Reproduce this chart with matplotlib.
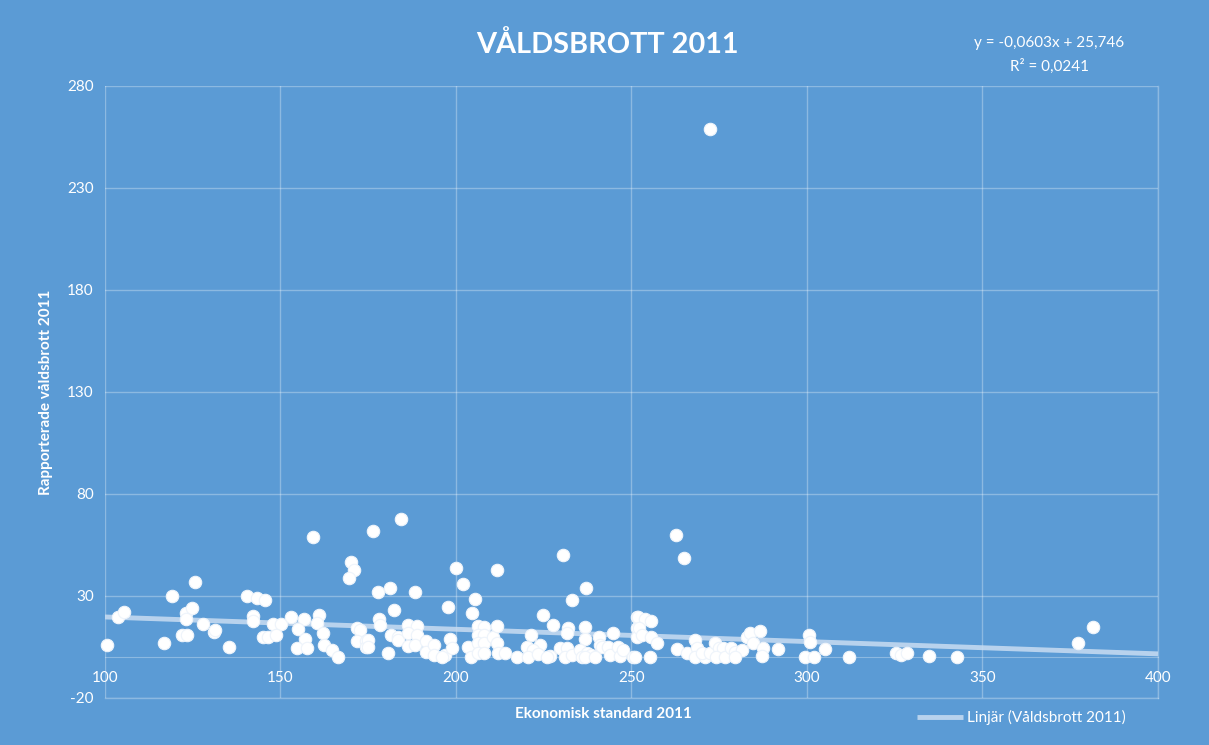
import numpy as np
import matplotlib
matplotlib.use("Agg")
import matplotlib.pyplot as plt

# Ekonomisk standard 2011 (x) vs rapporterade våldsbrott 2011 (y)
ekonomisk_standard = [
    100.7, 103.8, 105.4, 119.0, 125.6, 116.9, 123.0, 124.7, 123.0, 122.0,
    123.5, 127.8, 131.1, 131.3, 135.4, 140.4, 143.4, 145.5, 142.3, 142.3,
    148.0, 150.1, 153.1, 156.7, 155.1, 161.1, 160.5, 162.0, 145.1, 146.5,
    148.7, 156.9, 154.6, 157.7, 162.4, 164.6, 166.5, 170.0, 171.0, 169.5,
    171.7, 172.6, 171.9, 174.5, 174.5, 159.2, 176.4, 184.3, 200.0, 211.6,
    201.9, 205.4, 177.9, 181.3, 188.3, 182.3, 197.6, 204.5, 178.1, 178.5,
    175.0, 175.0, 181.4, 183.6, 183.6, 186.2, 188.8, 186.2, 188.8, 186.2,
    188.3, 180.7, 191.6, 191.6, 193.8, 193.8, 196.9, 198.3, 198.9, 195.9,
    203.5, 204.2, 206.4, 208.1, 206.4, 208.1, 206.4, 208.1, 206.4, 208.1,
    210.6, 211.6, 211.6, 212.1, 230.6, 237.0, 233.2, 224.9, 227.7, 231.8,
    231.5, 236.9, 221.3, 240.8, 244.8, 236.8, 241.0, 241.5, 220.1, 223.9,
    222.0, 214.0, 217.3, 220.6, 223.4, 226.8, 225.8, 229.6, 231.5, 231.1,
    233.0, 235.3, 237.2, 235.8, 238.6, 236.8, 239.6, 243.4, 243.9, 246.2,
    246.7, 247.7, 250.5, 251.5, 251.5, 251.5, 262.6, 264.9, 251.9, 253.8,
    255.5, 252.1, 252.9, 255.6, 257.2, 251.0, 255.3, 262.9, 265.7, 268.1,
    268.6, 268.1, 271.0, 270.0, 272.4, 273.8, 274.8, 276.1, 274.2, 276.6,
    278.5, 279.5, 281.4, 279.5, 282.8, 283.8, 286.6, 284.7, 287.5, 287.1,
    272.4, 291.8, 300.6, 300.9, 299.4, 302.0, 305.1, 312.0, 325.4, 326.7,
    328.4, 334.8, 342.8, 377.1, 381.4,
]
valdsbrott = [
    5.8, 19.9, 22.0, 30.0, 36.9, 6.8, 21.8, 24.0, 18.6, 10.9,
    10.9, 16.1, 12.5, 13.5, 4.8, 30.0, 28.9, 27.9, 20.2, 17.7,
    16.1, 16.1, 19.9, 18.7, 13.8, 20.9, 16.9, 11.7, 9.8, 9.8,
    10.9, 8.7, 4.7, 4.7, 5.8, 3.5, 0.0, 46.8, 42.7, 38.7,
    14.2, 13.3, 7.9, 7.9, 5.1, 58.8, 61.9, 67.7, 43.9, 42.7,
    35.9, 28.7, 31.8, 33.9, 31.8, 23.1, 24.8, 21.8, 18.6, 15.8,
    8.4, 5.1, 10.9, 10.1, 8.4, 15.8, 15.3, 12.0, 10.9, 5.4,
    5.9, 1.9, 8.1, 2.7, 6.0, 1.1, 1.1, 8.9, 4.3, 0.0,
    5.1, 0.2, 15.3, 14.6, 10.9, 10.9, 6.8, 6.8, 1.9, 1.9,
    10.1, 15.3, 6.8, 1.9, 50.0, 34.1, 27.9, 20.8, 15.8, 14.3,
    11.7, 15.0, 10.9, 10.1, 12.0, 8.9, 6.0, 5.1, 5.1, 6.0,
    3.5, 1.9, 0.0, 0.0, 1.5, 0.6, 0.0, 4.3, 4.3, 0.2,
    1.1, 3.5, 1.9, 0.2, 1.1, 0.0, 0.2, 5.1, 1.1, 4.8,
    0.6, 3.5, 0.0, 19.9, 14.2, 10.1, 59.7, 48.8, 19.9, 18.6,
    17.9, 14.2, 10.9, 9.7, 6.8, 0.2, 0.2, 3.9, 1.9, 8.4,
    4.3, 0.2, 0.2, 1.9, 1.9, 6.8, 4.3, 4.3, 0.2, 0.2,
    4.3, 2.7, 3.5, 0.2, 10.1, 12.0, 13.0, 6.8, 4.3, 0.6,
    258.9, 3.9, 11.1, 7.6, 0.0, 0.0, 3.9, 0.0, 2.2, 1.1,
    2.2, 0.6, 0.0, 7.1, 14.6,
]

# linear trendline as printed on the chart
slope = -0.0603
intercept = 25.746
r_squared = 0.0241

x_ticks = [100, 150, 200, 250, 300, 350, 400]
y_ticks = [-20, 30, 80, 130, 180, 230, 280]

bg = "#5B9BD5"
plt.rcParams["font.family"] = ["Lato", "DejaVu Sans"]
plt.rcParams["axes.unicode_minus"] = False

fig = plt.figure(figsize=(12.09, 7.45), dpi=100, facecolor=bg)
ax = fig.add_axes([0.0868, 0.0631, 0.8710, 0.8215], facecolor=bg)

ax.set_xlim(100, 400)
ax.set_ylim(-20, 280)
ax.set_xticks(x_ticks)
ax.set_yticks(y_ticks)
ax.grid(True, color="white", alpha=0.3, linewidth=1.0)
# outer frame lines (grid at the limits gets half clipped)
ax.plot([100, 400], [-20, -20], color="white", alpha=0.3, linewidth=1.0, clip_on=False)
ax.plot([400, 400], [-20, 280], color="white", alpha=0.3, linewidth=1.0, clip_on=False)
for s in ax.spines.values():
    s.set_visible(False)
# Excel puts the horizontal axis (and its labels) where y = 0
ax.spines["bottom"].set_position(("data", 0))
ax.spines["bottom"].set_visible(True)
ax.spines["bottom"].set_color((1, 1, 1, 0.3))
ax.tick_params(length=0, colors="white", labelsize=11)
ax.tick_params(axis="x", pad=10)
ax.tick_params(axis="y", pad=8)

# trendline
tx = np.array([100, 400])
ax.plot(tx, slope * tx + intercept, color="#C9DDF2", alpha=0.85,
        linewidth=3.5, solid_capstyle="butt", zorder=2,
        label="Linjär (Våldsbrott 2011)")

ax.scatter(ekonomisk_standard, valdsbrott, s=80, color="white",
           edgecolors="#EEF4FB", linewidths=0.8, zorder=3, clip_on=False)

fig.text(0.4995, 0.042, "Ekonomisk standard 2011", color="white", fontsize=11,
         fontweight="bold", ha="center", va="center")
ax.set_ylabel("Rapporterade våldsbrott 2011", color="white", fontsize=11,
              fontweight="bold", labelpad=10)

fig.text(0.502, 0.94, "VÅLDSBROTT 2011", color="white", fontsize=20.8,
         fontweight="bold", ha="center", va="center")

eq = "y = {:.4f}x + {:.3f}".format(slope, intercept).replace(".", ",")
fig.text(0.868, 0.942, eq, color="white", fontsize=11, ha="center", va="center")
fig.text(0.868, 0.911, "R² = {:.4f}".format(r_squared).replace(".", ","),
         color="white", fontsize=11, ha="center", va="center")

leg = fig.legend(loc="center", bbox_to_anchor=(0.845, 0.037), frameon=False,
                 fontsize=11, handlelength=3, handletextpad=0.3)
for t in leg.get_texts():
    t.set_color("white")

fig.savefig("out.png", dpi=100, facecolor=bg)
